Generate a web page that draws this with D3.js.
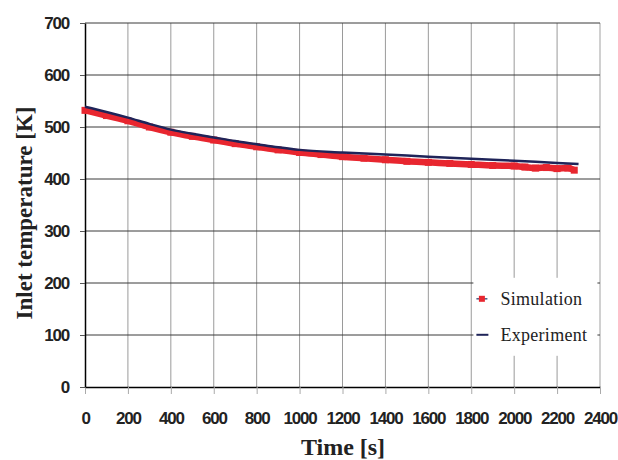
<!DOCTYPE html>
<html>
<head>
<meta charset="utf-8">
<script src="https://cdn.jsdelivr.net/npm/d3@7"></script>
<style>
  body { margin: 0; background: #fff; }
</style>
</head>
<body>
<svg id="chart"></svg>
<script>
// data
var timeTicks = [0, 200, 400, 600, 800, 1000, 1200, 1400, 1600, 1800, 2000, 2200, 2400];
var tempTicks = [0, 100, 200, 300, 400, 500, 600, 700];

var expTime = [0, 100, 200, 300, 400, 500, 600, 700, 800, 900, 1000, 1200, 1400, 1600, 1800, 2000, 2200, 2300];
var expTemp = [539, 529, 518, 506, 495, 487, 480, 473, 467, 461, 456, 451, 447, 443, 439, 435, 431, 429];

var simTime = [0, 100, 200, 300, 400, 500, 600, 700, 800, 900, 1000, 1100, 1200, 1300, 1400, 1500, 1600, 1700, 1800, 1900, 2000, 2050, 2100, 2150, 2200, 2250, 2280];
var simTemp = [532, 522, 512, 500, 490, 482, 475, 468, 462, 456, 451, 447, 443, 440, 437, 434, 432, 430, 428, 426, 425, 423, 421, 422, 420, 421, 417];

var margin = { top: 23, right: 18, bottom: 73, left: 85 };
var width = 618 - margin.left - margin.right;
var height = 460 - margin.top - margin.bottom;

var svg = d3.select('#chart')
  .attr('width', 618)
  .attr('height', 460);

var g = svg.append('g')
  .attr('transform', 'translate(' + margin.left + ',' + margin.top + ')');

var xScale = d3.scaleLinear().domain([0, 2400]).range([0, width]);
var yScale = d3.scaleLinear().domain([0, 700]).range([height, 0]);

var tickFont = '"Liberation Sans Narrow", "Liberation Sans", sans-serif';

// vertical grid
g.selectAll('.vgrid')
  .data(timeTicks.slice(1))
  .enter()
  .append('line')
    .attr('x1', d => xScale(d))
    .attr('x2', d => xScale(d))
    .attr('y1', 0)
    .attr('y2', height)
    .style('stroke', d => d == 2400 ? '#d0d0d0' : '#9a9a9a')
    .style('stroke-width', d => d == 2400 ? 2 : 1);

// horizontal grid
g.selectAll('.hgrid')
  .data(tempTicks.slice(1))
  .enter()
  .append('line')
    .attr('x1', 0)
    .attr('x2', width)
    .attr('y1', d => yScale(d))
    .attr('y2', d => yScale(d))
    .style('stroke', '#3a3a3a')
    .style('stroke-width', 1);

// axes
var xAxis = d3.axisBottom(xScale).tickValues(timeTicks).tickFormat(d3.format('d'))
  .tickSize(7).tickSizeOuter(0);
var yAxis = d3.axisLeft(yScale).tickValues(tempTicks).tickFormat(d3.format('d'))
  .tickSize(5).tickSizeOuter(0);

var gx = g.append('g')
  .attr('transform', 'translate(0,' + height + ')')
  .call(xAxis);
gx.select('.domain').style('stroke', '#000').style('stroke-width', 1.5);
gx.selectAll('.tick line').style('stroke', '#aaa');
gx.selectAll('text')
  .attr('y', 25)
  .attr('dy', '0.71em')
  .style('font-family', tickFont)
  .style('font-weight', 'bold')
  .style('font-size', '17px')
  .style('letter-spacing', '-1.2px')
  .style('fill', '#222');

var gy = g.append('g').call(yAxis);
gy.select('.domain').style('stroke', '#000').style('stroke-width', 1.5);
gy.selectAll('.tick line').style('stroke', '#555');
gy.selectAll('text')
  .attr('x', -16)
  .style('font-family', tickFont)
  .style('font-weight', 'bold')
  .style('font-size', '17px')
  .style('letter-spacing', '-1.2px')
  .style('fill', '#222');

// simulation series: dense red squares
var simData = simTime.map((t, i) => ({ t: t, v: simTemp[i] }));
var expData = expTime.map((t, i) => ({ t: t, v: expTemp[i] }));

var line = d3.line()
  .x(d => xScale(d.t))
  .y(d => yScale(d.v))
  .curve(d3.curveMonotoneX);

g.append('path')
  .datum(simData)
  .attr('d', line)
  .style('fill', 'none')
  .style('stroke', '#e8262f')
  .style('stroke-width', 6.5);

g.selectAll('.simpt')
  .data(simData)
  .enter()
  .append('rect')
    .attr('x', d => xScale(d.t) - 3.5)
    .attr('y', d => yScale(d.v) - 3.5)
    .attr('width', 7)
    .attr('height', 7)
    .style('fill', '#e8262f');

// experiment line
g.append('path')
  .datum(expData)
  .attr('d', line)
  .style('fill', 'none')
  .style('stroke', '#1f2459')
  .style('stroke-width', 2.5);

// legend
var leg = g.append('g')
  .attr('transform', 'translate(' + (xScale(1810)) + ',' + (yScale(210)) + ')');
leg.append('rect')
  .attr('x', 0).attr('y', 0)
  .attr('width', 124).attr('height', 78)
  .style('fill', '#fff');

leg.append('line')
  .attr('x1', 3).attr('x2', 14).attr('y1', 21).attr('y2', 21)
  .style('stroke', '#4a5a80').style('stroke-width', 1.5);
leg.append('rect')
  .attr('x', 5.5).attr('y', 18).attr('width', 6).attr('height', 6)
  .style('fill', '#e8262f');
leg.append('text')
  .attr('x', 27).attr('y', 27)
  .style('font-family', '"Liberation Serif", "Times New Roman", serif')
  .style('font-size', '18px')
  .style('letter-spacing', '0.3px')
  .style('fill', '#222')
  .text('Simulation');

leg.append('line')
  .attr('x1', 3).attr('x2', 15).attr('y1', 57).attr('y2', 57)
  .style('stroke', '#1f2459').style('stroke-width', 2);
leg.append('text')
  .attr('x', 27).attr('y', 63)
  .style('font-family', '"Liberation Serif", "Times New Roman", serif')
  .style('font-size', '18px')
  .style('letter-spacing', '0.3px')
  .style('fill', '#222')
  .text('Experiment');

// axis titles
svg.append('text')
  .attr('x', 343)
  .attr('y', 455)
  .attr('text-anchor', 'middle')
  .style('font-family', '"Liberation Serif", "Times New Roman", serif')
  .style('font-weight', 'bold')
  .style('font-size', '24px')
  .style('fill', '#222')
  .text('Time [s]');

svg.append('text')
  .attr('transform', 'translate(32,' + 213 + ') rotate(-90)')
  .attr('text-anchor', 'middle')
  .style('font-family', '"Liberation Serif", "Times New Roman", serif')
  .style('font-weight', 'bold')
  .style('font-size', '23px')
  .style('fill', '#222')
  .text('Inlet temperature [K]');
</script>
</body>
</html>
